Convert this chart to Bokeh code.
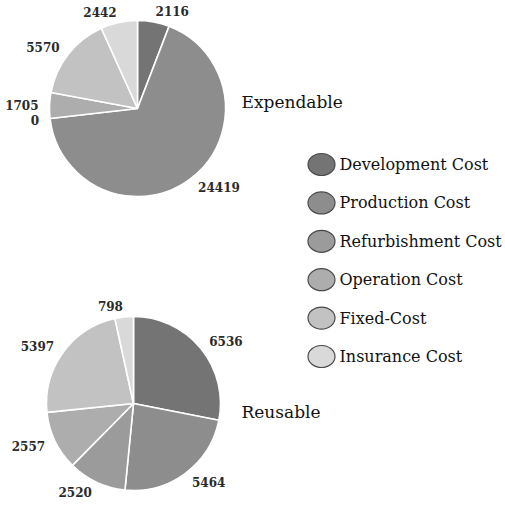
import math
from bokeh.plotting import figure
from bokeh.models import Range1d, ColumnDataSource
from bokeh.core.properties import value
from bokeh.embed import file_html
from bokeh.resources import INLINE

# ---- data ----
categories = ["Development Cost", "Production Cost", "Refurbishment Cost",
              "Operation Cost", "Fixed-Cost", "Insurance Cost"]
expendable = [2116, 24419, 0, 1705, 5570, 2442]
reusable = [6536, 5464, 2520, 2557, 5397, 798]
pie_titles = ["Expendable", "Reusable"]
colors = ["#747474", "#8d8d8d", "#9b9b9b", "#adadad", "#c2c2c2", "#d9d9d9"]

# ---- layout (picture pixel coordinates, y downwards) ----
W, H = 505, 507
SERIF = value("DejaVu Serif")

p = figure(width=W, height=H, x_range=Range1d(0, W), y_range=Range1d(0, H),
           output_backend="svg", toolbar_location=None,
           x_axis_type=None, y_axis_type=None, min_border=0,
           outline_line_color=None)
p.grid.visible = False
p.background_fill_color = "white"
p.border_fill_color = "white"


def Y(ypic):
    return H - ypic


def draw_pie(vals, cx, cy, r, title, tx, ty):
    total = float(sum(vals))
    start = 0.0
    ws = dict(x=[], y=[], s=[], e=[], c=[])
    ls = dict(x=[], y=[], t=[], a=[])
    for v, c in zip(vals, colors):
        ang = v / total * 2 * math.pi
        mid = start + ang / 2
        if v > 0:
            ws["x"].append(cx)
            ws["y"].append(Y(cy))
            ws["s"].append(math.pi / 2 - (start + ang))
            ws["e"].append(math.pi / 2 - start)
            ws["c"].append(c)
        rl = r + 11
        sx = math.sin(mid)
        ls["x"].append(cx + rl * sx)
        ls["y"].append(Y(cy - rl * math.cos(mid)))
        ls["t"].append(str(v))
        ls["a"].append("left" if sx >= 0 else "right")
        start += ang
    p.wedge(x="x", y="y", radius=r, start_angle="s", end_angle="e",
            fill_color="c", line_color="white", line_width=1.6,
            source=ColumnDataSource(ws))
    p.text(x="x", y="y", text="t", text_align="a", text_baseline="middle",
           text_font=SERIF, text_font_style="bold", text_font_size="12px",
           text_color="#2a2a2a", source=ColumnDataSource(ls))
    p.text(x=[tx], y=[Y(ty)], text=[title], text_align="left",
           text_baseline="middle", text_font=SERIF, text_font_size="17px",
           text_color="#111111")


draw_pie(expendable, 137, 108, 88, pie_titles[0], 241, 101)
draw_pie(reusable, 133, 403, 87, pie_titles[1], 241, 411)

# ---- legend ----
lx, ly0, dy = 321, 164, 38.4
leg = dict(x=[lx] * len(categories),
           y=[Y(ly0 + i * dy) for i in range(len(categories))],
           tx=[lx + 18] * len(categories),
           t=categories, c=colors)
src = ColumnDataSource(leg)
p.ellipse(x="x", y="y", width=27, height=22, fill_color="c",
          line_color="#4a4a4a", line_width=1.2, source=src)
p.text(x="tx", y="y", text="t", text_baseline="middle", text_align="left",
       text_font=SERIF, text_font_size="16px", text_color="#111111",
       source=src)

open("out.html", "w").write(file_html(p, INLINE))
